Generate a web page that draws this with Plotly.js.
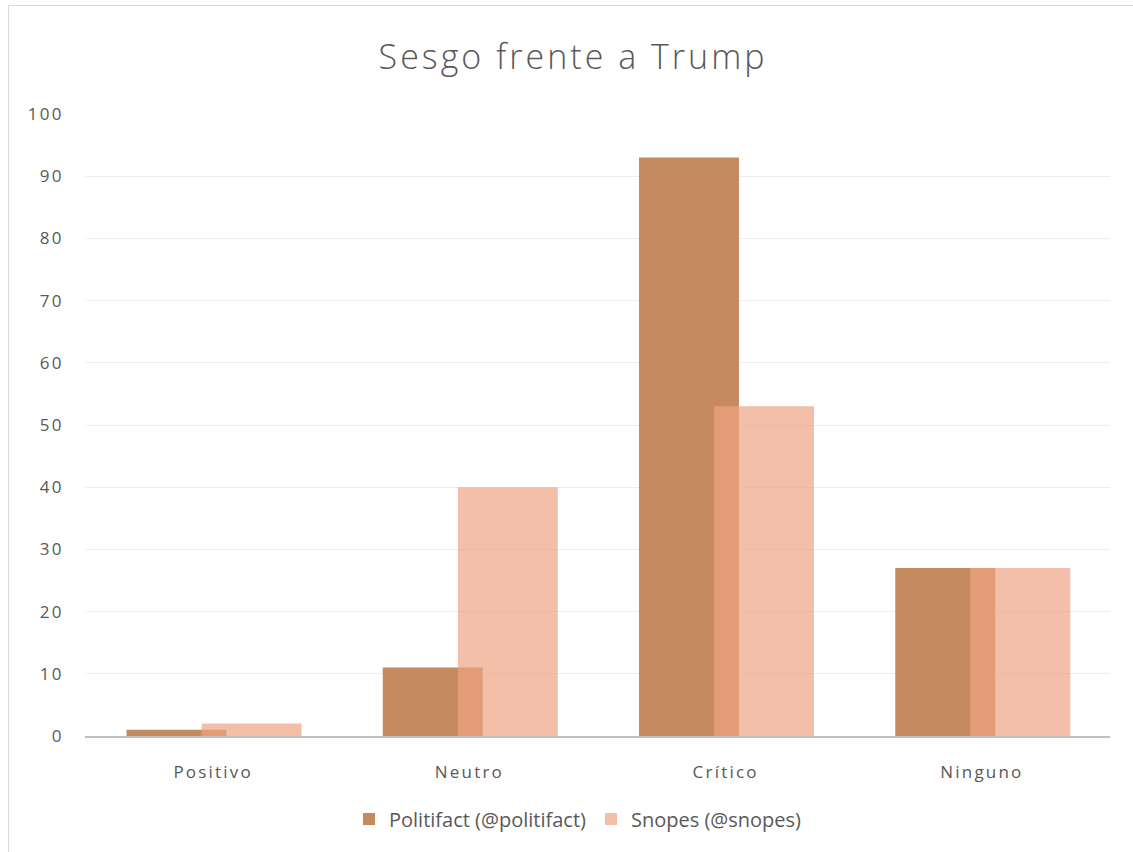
<!DOCTYPE html>
<html>
<head>
<meta charset="utf-8">
<script src="https://cdn.plot.ly/plotly-3.0.1.min.js"></script>
<style>
html,body{margin:0;padding:0;background:#fff;}
#chart{width:1133px;height:852px;}
#chart .gtitle{letter-spacing:3px;}
#chart .xtick text,#chart .ytick text{letter-spacing:2.2px;}
</style>
</head>
<body>
<div id="chart"></div>
<script>
const categories = ["Positivo", "Neutro", "Crítico", "Ninguno"];
const politifact = [1, 11, 93, 27];
const snopes = [2, 40, 53, 27];
const seriesNames = ["Politifact (@politifact)", "Snopes (@snopes)"];
const yTicks = [0, 10, 20, 30, 40, 50, 60, 70, 80, 90, 100];

const font = "'Open Sans', sans-serif";
const plotL = 85, plotR = 1110, plotT = 114, plotB = 736;
const pw = plotR - plotL, ph = plotB - plotT;

const traces = [
  {type: "bar", x: categories, y: politifact, name: seriesNames[0],
   marker: {color: "rgb(198,138,95)", line: {width: 0}}, width: 0.39, offset: -0.338, hoverinfo: "y"},
  {type: "bar", x: categories, y: snopes, name: seriesNames[1],
   marker: {color: "rgba(239,164,131,0.7)", line: {width: 0}}, width: 0.39, offset: -0.045, hoverinfo: "y"}
];

const layout = {
  width: 1133, height: 852,
  margin: {l: plotL, r: 1133 - plotR, t: plotT, b: 852 - plotB, pad: 0, autoexpand: false},
  paper_bgcolor: "#fff", plot_bgcolor: "#fff",
  barmode: "overlay",
  title: {text: "Sesgo frente a Trump", font: {family: font, size: 34, color: "#595959", weight: 300},
          xref: "paper", x: (573 - plotL) / pw, xanchor: "center", y: 1 - 57 / 852, yanchor: "middle"},
  xaxis: {type: "category", tickfont: {family: font, size: 17, color: "#595959"},
          showgrid: false, showline: true, linecolor: "#BFBFBF", linewidth: 2,
          ticks: "outside", ticklen: 20, tickcolor: "rgba(0,0,0,0)", zeroline: false, fixedrange: true},
  yaxis: {range: [0, 100], tickvals: yTicks, ticktext: yTicks.map(String),
          tickfont: {family: font, size: 17, color: "#595959"},
          showgrid: true, gridcolor: "#EDEDED", gridwidth: 1, zeroline: false,
          showline: false, ticks: "outside", ticklen: 17, tickcolor: "rgba(0,0,0,0)", fixedrange: true},
  showlegend: true,
  legend: {orientation: "h", xref: "paper", x: (578 - plotL) / pw, xanchor: "center",
           y: -(819 - plotB) / ph, yanchor: "middle",
           font: {family: font, size: 20, color: "#595959"}, itemwidth: 30, traceorder: "normal"},
  shapes: [{type: "rect", xref: "paper", yref: "paper",
            x0: (8.5 - plotL) / pw, x1: (1140 - plotL) / pw,
            y0: -(860 - plotB) / ph, y1: 1 + (plotT - 5.5) / ph,
            line: {color: "#D9D9D9", width: 1}, fillcolor: "rgba(0,0,0,0)", layer: "below"}]
};

Plotly.newPlot("chart", traces, layout, {displayModeBar: false, staticPlot: true});
</script>
</body>
</html>
